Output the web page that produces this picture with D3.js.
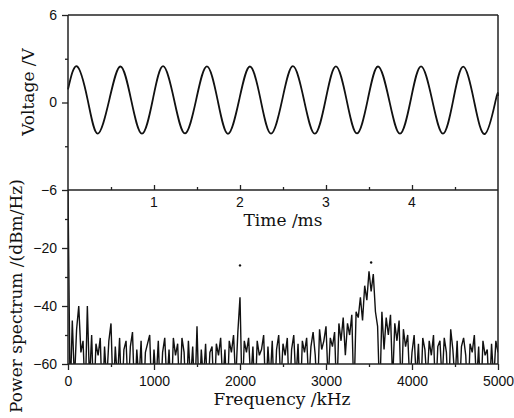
<!DOCTYPE html>
<html>
<head>
<meta charset="utf-8">
<script src="https://cdn.jsdelivr.net/npm/d3@7"></script>
<style>
    body { margin: 0; background: #fff; }
    .tick text { font-family: "Liberation Sans", Arial, sans-serif; font-size: 14px; fill: #111; }
    .axis path, .axis line { stroke: #222; }
    .title { font-family: "DejaVu Serif", serif; font-size: 17px; fill: #111; }
</style>
</head>
<body>
<div id="chart"></div>
<script>

// voltage trace (time in ms, voltage in V)
let timeMs = [0, 0.105, 0.23, 0.345, 0.48, 0.61, 0.735, 0.86, 0.985, 1.105, 1.235, 1.36, 1.49,
    1.615, 1.74, 1.86, 1.99, 2.115, 2.24, 2.36, 2.49, 2.615, 2.745, 2.87, 2.995, 3.115, 3.24,
    3.36, 3.485, 3.605, 3.735, 3.86, 3.985, 4.105, 4.235, 4.36, 4.48, 4.595, 4.72, 4.85, 4.975, 5.0];
let voltage = [0.9, 2.48, 0.15, -2.13, 0.18, 2.47, 0.16, -2.14, 0.17, 2.49, 0.15, -2.12, 0.18,
    2.48, 0.16, -2.15, 0.17, 2.47, 0.18, -2.13, 0.16, 2.49, 0.15, -2.14, 0.17, 2.48, 0.16,
    -2.12, 0.18, 2.47, 0.15, -2.14, 0.17, 2.48, 0.16, -2.13, 0.18, 2.46, 0.15, -2.15, 0.2, 0.45];

// power spectrum (every 25 kHz, dBm/Hz); dips run below the -60 floor
let freqStep = 25;
let power = [
    0, -72, -45, -66, -48, -40, -56, -52, -72, -40, -66, -50, -74, -53, -57, -51, -75, -54, -66, -52,
    -46, -72, -54, -66, -51, -74, -55, -52, -70, -54, -49, -73, -55, -66, -52, -75, -56, -53, -50, -72,
    -55, -66, -52, -73, -56, -51, -67, -55, -74, -51, -57, -53, -72, -51, -56, -74, -52, -66, -54, -72,
    -47, -73, -55, -66, -53, -72, -56, -54, -73, -53, -57, -51, -67, -55, -74, -52, -56, -50, -66, -49,
    -37, -72, -52, -56, -51, -66, -54, -73, -52, -57, -55, -50, -72, -54, -66, -52, -74, -55, -50, -67,
    -53, -57, -51, -73, -55, -50, -66, -53, -74, -52, -56, -51, -67, -54, -49, -57, -72, -48, -55, -52,
    -47, -66, -51, -54, -49, -72, -46, -52, -44, -57, -46, -50, -43, -72, -42, -44, -37, -45, -33, -38,
    -28, -35, -29, -42, -47, -72, -42, -55, -44, -50, -43, -66, -46, -52, -45, -72, -48, -54, -50, -67,
    -56, -50, -66, -53, -73, -51, -55, -67, -52, -57, -50, -72, -54, -52, -66, -51, -56, -73, -48, -55,
    -66, -52, -72, -54, -51, -57, -74, -53, -56, -50, -67, -54, -73, -52, -57, -55, -72, -53, -66, -52,
    -56
];
// stray points above the trace
let strayFreq = [2000, 3525];
let strayPower = [-26, -25];

// tick values
let voltTicks = [-6, 0, 6];
let voltMinor = [-3, 3];
let timeTicks = [1, 2, 3, 4];
let timeMinor = [0.5, 1.5, 2.5, 3.5, 4.5];
let dbTicks = [-60, -40, -20];
let dbMinor = [-50, -30, -10];
let freqTicks = [0, 1000, 2000, 3000, 4000, 5000];
let freqMinor = [500, 1500, 2500, 3500, 4500];

let margin = {left: 68, right: 16, top: 15, mid: 190, bottom: 364};
let W = 514, H = 418;
let plotW = W - margin.left - margin.right;

let svg = d3.select("#chart").append("svg")
    .attr("width", W)
    .attr("height", H);

// scales
let xTime = d3.scaleLinear().domain([0, 5]).range([margin.left, margin.left + plotW]);
let yVolt = d3.scaleLinear().domain([-6, 6]).range([margin.mid, margin.top]);
let xFreq = d3.scaleLinear().domain([0, 5000]).range([margin.left, margin.left + plotW]);
let yDb = d3.scaleLinear().domain([-60, 0]).range([margin.bottom, margin.mid]);

svg.append("defs").append("clipPath").attr("id", "clipBottom")
    .append("rect")
    .attr("x", margin.left).attr("y", margin.mid)
    .attr("width", plotW).attr("height", margin.bottom - margin.mid);

// spectrum trace
let specData = power.map((p, i) => ({f: i * freqStep, p: p}));
svg.append("path")
    .datum(specData)
    .attr("clip-path", "url(#clipBottom)")
    .attr("fill", "none")
    .attr("stroke", "#111")
    .attr("stroke-width", 1.4)
    .attr("d", d3.line().x(d => xFreq(d.f)).y(d => yDb(d.p)));

svg.selectAll(".stray")
    .data(strayFreq.map((f, i) => ({f: f, p: strayPower[i]})))
    .enter().append("circle")
    .attr("class", "stray")
    .attr("cx", d => xFreq(d.f))
    .attr("cy", d => yDb(d.p))
    .attr("r", 1.2)
    .attr("fill", "#111");

// voltage trace
let voltData = timeMs.map((t, i) => ({t: t, v: voltage[i]}));
svg.append("path")
    .datum(voltData)
    .attr("fill", "none")
    .attr("stroke", "#111")
    .attr("stroke-width", 1.8)
    .attr("d", d3.line().curve(d3.curveNatural).x(d => xTime(d.t)).y(d => yVolt(d.v)));

// helper for minor ticks
function minorAxis(axisFn, scale, values, size) {
    return axisFn(scale).tickValues(values).tickSize(size).tickFormat("");
}

// upper panel axes
svg.append("g").attr("class", "axis")
    .attr("transform", `translate(${margin.left},0)`)
    .call(d3.axisLeft(yVolt).tickValues(voltTicks).tickSize(6).tickPadding(5).tickFormat(d3.format("d")));
svg.append("g").attr("class", "axis")
    .attr("transform", `translate(${margin.left},0)`)
    .call(minorAxis(d3.axisLeft, yVolt, voltMinor, 3));

svg.append("g").attr("class", "axis")
    .attr("transform", `translate(0,${margin.mid})`)
    .call(d3.axisTop(xTime).tickValues(timeTicks).tickSize(5).tickFormat(""));
svg.append("g").attr("class", "axis")
    .attr("transform", `translate(0,${margin.mid})`)
    .call(minorAxis(d3.axisTop, xTime, timeMinor, 3));
// time labels sit below the shared line
svg.append("g")
    .selectAll("text")
    .data(timeTicks)
    .enter().append("text")
    .attr("x", d => xTime(d))
    .attr("y", margin.mid + 17)
    .attr("text-anchor", "middle")
    .style("font-family", "'Liberation Sans', Arial, sans-serif")
    .style("font-size", "14px")
    .style("fill", "#111")
    .text(d => d);

// lower panel axes
svg.append("g").attr("class", "axis")
    .attr("transform", `translate(${margin.left},0)`)
    .call(d3.axisLeft(yDb).tickValues(dbTicks).tickSize(6).tickPadding(5).tickFormat(d3.format("d")));
svg.append("g").attr("class", "axis")
    .attr("transform", `translate(${margin.left},0)`)
    .call(minorAxis(d3.axisLeft, yDb, dbMinor, 3));
svg.append("g").attr("class", "axis")
    .attr("transform", `translate(0,${margin.bottom})`)
    .call(d3.axisBottom(xFreq).tickValues(freqTicks).tickSize(6).tickPadding(6).tickFormat(d3.format("d")));
svg.append("g").attr("class", "axis")
    .attr("transform", `translate(0,${margin.bottom})`)
    .call(minorAxis(d3.axisBottom, xFreq, freqMinor, 3));

// frame lines
svg.selectAll(".axis path").remove();
let frame = svg.append("g")
    .attr("stroke", "#222")
    .attr("stroke-width", 1.5)
    .attr("fill", "none");
frame.append("line").attr("x1", margin.left).attr("x2", margin.left + plotW).attr("y1", margin.top).attr("y2", margin.top);
frame.append("line").attr("x1", margin.left).attr("x2", margin.left + plotW).attr("y1", margin.mid).attr("y2", margin.mid);
frame.append("line").attr("x1", margin.left).attr("x2", margin.left + plotW).attr("y1", margin.bottom).attr("y2", margin.bottom);
frame.append("line").attr("x1", margin.left).attr("x2", margin.left).attr("y1", margin.top).attr("y2", margin.bottom);
frame.append("line").attr("x1", margin.left + plotW).attr("x2", margin.left + plotW).attr("y1", margin.top).attr("y2", margin.bottom);
svg.selectAll(".axis line").attr("stroke-width", 1.3);

// titles
svg.append("text").attr("class", "title")
    .attr("text-anchor", "middle")
    .attr("transform", "translate(28,92) rotate(-90)")
    .attr("dy", "0.35em")
    .text("Voltage /V");
svg.append("text").attr("class", "title")
    .attr("text-anchor", "middle")
    .attr("transform", "translate(16,296) rotate(-90)")
    .attr("dy", "0.35em")
    .text("Power spectrum /(dBm/Hz)");
svg.append("text").attr("class", "title")
    .attr("text-anchor", "middle")
    .attr("x", 283).attr("y", 226)
    .text("Time /ms");
svg.append("text").attr("class", "title")
    .attr("text-anchor", "middle")
    .attr("x", 282).attr("y", 405)
    .text("Frequency /kHz");

</script>
</body>
</html>
